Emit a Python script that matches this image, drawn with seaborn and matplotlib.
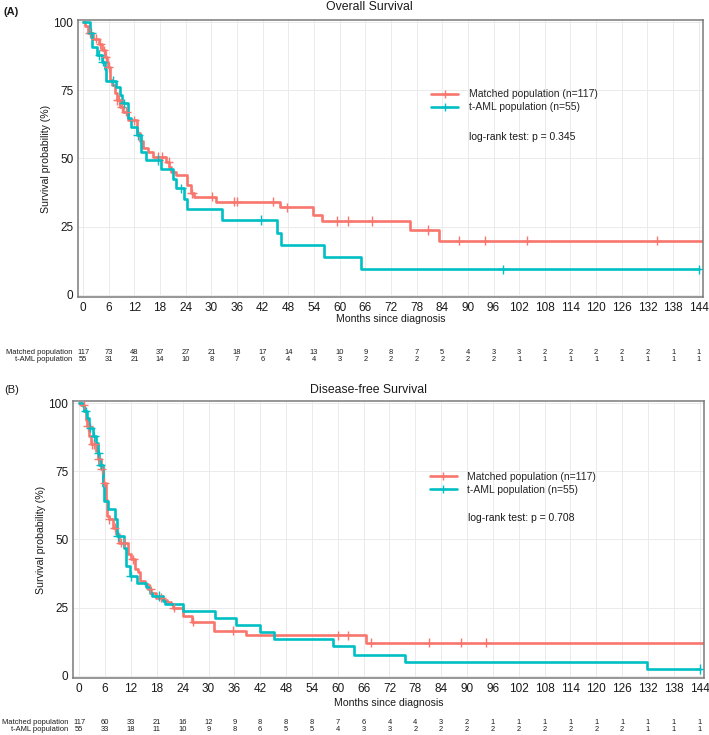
import numpy as np
import pandas as pd
import matplotlib
matplotlib.use("Agg")
import matplotlib.pyplot as plt
import seaborn as sns
from matplotlib.lines import Line2D
from matplotlib.transforms import blended_transform_factory

# ---------------- data ----------------
groups = ["Matched population", "t-AML population"]
legend_labels = ["Matched population (n=117)", "t-AML population (n=55)"]
colors = ["#F8766D", "#00BFC4"]
xticks = list(range(0, 145, 6))
yticks = [0, 25, 50, 75, 100]
titles = ["Overall Survival", "Disease-free Survival"]
panel_tags = ["(A)", "(B)"]
pvalues = ["log-rank test: p = 0.345", "log-rank test: p = 0.708"]

# Overall survival - matched population
os_m_t = [0, 0.5, 1.2, 2.4, 3.6, 4.4, 5.1, 5.5, 5.9, 6.3, 6.7, 7.5, 7.9, 8.6, 9.4, 10.6,
          12.5, 13.2, 14.0, 15.2, 16.3, 19.4, 20.2, 20.6, 21.7, 24.2, 25.2, 26.0, 31.0,
          46.1, 53.8, 55.9, 76.4, 83.2, 146]
os_m_s = [100, 98.5, 96, 94, 92, 89.7, 87.3, 85.5, 83.6, 78.8, 77, 73.9, 71.4, 69, 67.2, 64,
          59.3, 56.5, 53.7, 52.5, 50.5, 48.8, 47, 45.2, 44, 40.3, 37.2, 36, 34.2,
          32.1, 29.3, 27.1, 23.8, 19.8, 19.8]
os_m_cens = [1.5, 3.0, 4.0, 4.8, 5.3, 6.0, 8.0, 8.3, 9.0, 10.0, 12.0, 17.5, 18.5, 20.0, 25.5,
             30.2, 35.3, 36.0, 44.5, 47.6, 59.4, 62.0, 67.6, 80.7, 88.0, 93.9, 103.9, 134.3]

# Overall survival - t-AML population
os_t_t = [0, 1.6, 2.0, 3.2, 4.3, 5.1, 5.3, 7.8, 8.6, 9.0, 10.5, 11.3, 12.5, 13.6, 14.6, 18.3,
          21.0, 21.7, 23.7, 24.4, 32.5, 45.3, 46.4, 56.4, 65.0, 144]
os_t_s = [100, 96, 91, 88, 85.5, 83, 78.4, 76.3, 73.3, 70.2, 64.7, 61.7, 58.6, 52.5, 49.4, 46,
          42.4, 39, 35, 31.4, 27.5, 22.6, 18.3, 13.8, 9.4, 9.4]
os_t_cens = [1.9, 3.8, 4.6, 7.0, 9.5, 12.8, 17.5, 23.0, 41.5, 98.2, 144]

# Disease-free survival - matched population
dfs_m_t = [0, 0.4, 1.2, 1.6, 1.9, 2.3, 2.7, 3.9, 4.3, 5.0, 5.4, 6.1, 6.5, 6.9, 7.8, 8.6, 9.3,
           11.3, 12.1, 12.9, 13.6, 14.0, 15.2, 16.0, 16.7, 17.9, 19.5, 20.3, 21.4, 21.8,
           24.1, 26.1, 31.3, 38.6, 66.6, 146]
dfs_m_s = [100, 99.5, 97, 94, 91.6, 87.9, 84.9, 82.4, 79.4, 75.7, 70.8, 64.5, 58.6, 57.4, 54.4,
           51.9, 48.8, 44.6, 42.7, 39, 37.9, 34.8, 33.6, 31.8, 30.3, 28.7, 27.8, 26.9, 26.3,
           25, 22, 19.9, 16.5, 14.9, 12.2, 12.2]
dfs_m_cens = [1.0, 2.0, 3.0, 3.5, 4.5, 5.2, 5.8, 7.0, 8.2, 9.6, 10.5, 12.5, 16.5, 19.0, 22.0,
              26.5, 35.8, 60.0, 62.3, 67.8, 81.1, 88.6, 94.5]

# Disease-free survival - t-AML population
dfs_t_t = [0, 0.8, 1.2, 1.7, 2.3, 3.1, 3.9, 4.3, 4.7, 5.4, 5.8, 6.6, 8.2, 8.8, 10.5, 10.9,
           11.7, 13.4, 15.6, 16.4, 17.0, 19.5, 20.0, 24.1, 31.5, 36.4, 42.0, 45.2, 58.8,
           63.7, 75.5, 131.8, 144]
dfs_t_s = [100, 98.9, 97, 94.7, 91, 87.9, 85.5, 81.8, 77.5, 69.6, 64.1, 61.3, 57.4, 51.3, 47,
           40.3, 36.6, 34.2, 32.4, 30.5, 29.3, 27.5, 26.3, 23.8, 21.1, 18.6, 15.9, 13.4, 10.8,
           7.7, 5.0, 2.5, 2.5]
dfs_t_cens = [1.5, 2.6, 3.5, 4.4, 5.0, 9.0, 12.0, 18.5, 144]

# numbers at risk
os_risk_m = [117, 73, 48, 37, 27, 21, 18, 17, 14, 13, 10, 9, 8, 7, 5, 4, 3, 3, 2, 2, 2, 2, 2, 1, 1]
os_risk_t = [55, 31, 21, 14, 10, 8, 7, 6, 4, 4, 3, 2, 2, 2, 2, 2, 2, 1, 1, 1, 1, 1, 1, 1, 1]
dfs_risk_m = [117, 60, 33, 21, 16, 12, 9, 8, 8, 8, 7, 6, 4, 4, 3, 2, 1, 1, 1, 1, 1, 1, 1, 1, 1]
dfs_risk_t = [55, 33, 18, 11, 10, 9, 8, 6, 5, 5, 4, 3, 3, 2, 2, 2, 2, 2, 2, 2, 2, 2, 1, 1, 1]

panels = [
    dict(curves=[(os_m_t, os_m_s, os_m_cens), (os_t_t, os_t_s, os_t_cens)],
         risk=[os_risk_m, os_risk_t]),
    dict(curves=[(dfs_m_t, dfs_m_s, dfs_m_cens), (dfs_t_t, dfs_t_s, dfs_t_cens)],
         risk=[dfs_risk_m, dfs_risk_t]),
]

# ---------------- style ----------------
sns.set_style("white")
plt.rcParams["font.family"] = ["Liberation Sans", "DejaVu Sans"]

W, H = 709, 735
fig = plt.figure(figsize=(W / 100, H / 100), dpi=100)

# axes boxes in pixels: left, top, right, bottom
boxes = [(78, 20, 703, 297), (73, 401, 704, 678)]
xlims = [(-1.2, 145.0), (-1.45, 145.0)]
title_y = [7, 390]
title_x = 369
tag_y = [12, 390]
xlabel_y = [319, 703]
risk_y = [(352.5, 359.5), (722.5, 729.5)]
label_right = [72, 68]
legend_anchor_y = [0.75, 0.744]
risk_font = ["Liberation Sans Narrow", "Liberation Sans", "DejaVu Sans"]

for i, p in enumerate(panels):
    l, t, r, b = boxes[i]
    ax = fig.add_axes([l / W, 1 - b / H, (r - l) / W, (b - t) / H])
    rows = []
    crows = []
    for g, (tt, ss, cc) in zip(groups, p["curves"]):
        for a, s in zip(tt, ss):
            rows.append((g, a, s))
        tt_a = np.array(tt)
        ss_a = np.array(ss)
        for c in cc:
            idx = np.searchsorted(tt_a, c, side="right") - 1
            crows.append((g, c, ss_a[idx]))
    df = pd.DataFrame(rows, columns=["group", "time", "surv"])
    dc = pd.DataFrame(crows, columns=["group", "time", "surv"])

    sns.lineplot(data=df, x="time", y="surv", hue="group", hue_order=groups,
                 palette=colors, drawstyle="steps-post", estimator=None,
                 linewidth=1.9, ax=ax, legend=False)
    sns.scatterplot(data=dc, x="time", y="surv", hue="group", hue_order=groups,
                    palette=colors, marker="+", s=45, linewidth=1.0, ax=ax,
                    legend=False, zorder=3)

    ax.set_xlim(*xlims[i])
    ax.set_ylim(-0.8, 100.8)
    ax.set_xticks(xticks)
    ax.set_yticks(yticks)
    ax.grid(True, color="#EBEBEB", linewidth=0.7)
    ax.set_axisbelow(True)
    for sp in ax.spines.values():
        sp.set_color("#7a7a7a")
        sp.set_linewidth(1.1)
        sp.set_visible(True)
    ax.tick_params(axis="both", which="major", length=2.5, width=0.8, color="#7a7a7a",
                   labelsize=8.5, pad=0.8, labelcolor="#1a1a1a")
    ax.set_ylabel("Survival probability (%)", fontsize=7.6, color="#1a1a1a", labelpad=2)
    ax.set_xlabel("")
    fig.text(((l + r) / 2) / W, 1 - xlabel_y[i] / H, "Months since diagnosis",
             ha="center", va="center", fontsize=7.6, color="#1a1a1a")
    fig.text(title_x / W, 1 - title_y[i] / H, titles[i], ha="center", va="center",
             fontsize=8.8, color="#1a1a1a")
    fig.text(4 / W, 1 - tag_y[i] / H, panel_tags[i], ha="left", va="center",
             fontsize=8, fontweight="bold" if i == 0 else "normal", color="#1a1a1a")

    handles = [Line2D([0], [0], color=c, lw=1.9, marker="+", markersize=6,
                      markeredgewidth=1.0) for c in colors]
    ax.legend(handles, legend_labels, loc="upper left",
              bbox_to_anchor=(0.565, legend_anchor_y[i]),
              frameon=False, fontsize=7.5, handlelength=2.6, handletextpad=1.0,
              labelspacing=0.3, borderaxespad=0, borderpad=0)
    ax.text(0.626, 0.578, pvalues[i], transform=ax.transAxes, ha="left", va="center",
            fontsize=7.5, color="#1a1a1a")

    # risk table
    tr = blended_transform_factory(ax.transData, fig.transFigure)
    for g, vals, yy in zip(groups, p["risk"], risk_y[i]):
        fig.text(label_right[i] / W, 1 - yy / H, g, ha="right", va="center",
                 fontsize=5.4, color="#1a1a1a", family=risk_font)
        for x, v in zip(xticks, vals):
            ax.text(x, 1 - yy / H, str(v), transform=tr, ha="center", va="center",
                    fontsize=5.4, color="#1a1a1a", clip_on=False, family=risk_font)

fig.savefig("out.png", dpi=100)
